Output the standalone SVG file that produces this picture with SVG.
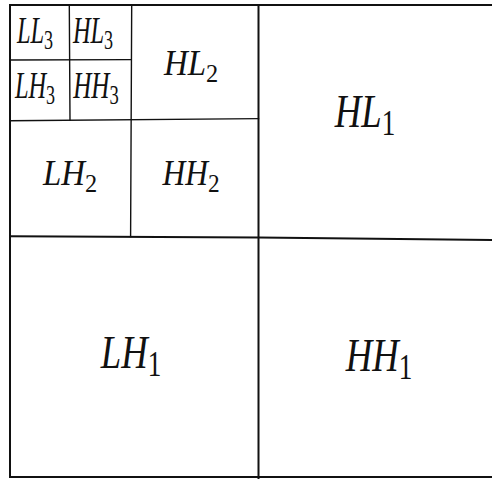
<svg xmlns="http://www.w3.org/2000/svg" width="492" height="479" viewBox="0 0 492 479">
<style>
.ln{stroke:#111;fill:none;stroke-linecap:square}
.outer{stroke-width:2}
.inner{stroke-width:1.4}
.lb{font-family:"Liberation Serif","Times New Roman",serif;font-style:italic;fill:#111;text-anchor:middle}
.l3{font-size:37px}
.l2{font-size:35px}
.l1{font-size:47px}
.sub{font-style:normal;font-size:0.74em}
</style>
<rect width="492" height="479" fill="#fff"/>
<g id="grid">
<path class="ln outer" d="M10,5 H492 M10,5 V477 M10,477 H492"/>
<path class="ln outer" d="M258.5,5 V479"/>
<path class="ln outer" d="M10,236.3 L258.5,237.6 L492,240"/>
<path class="ln inner" d="M131.7,5 L130.6,236.5"/>
<path class="ln inner" d="M10,120.8 L258.5,118.6"/>
<path class="ln inner" d="M69.3,5 L70,120"/>
<path class="ln inner" d="M10,60 L131,59.6"/>
</g>
<g id="connectors"/>
<g id="LL3"><text class="lb l3" transform="translate(35,42.7) scale(0.66,1)">LL<tspan class="sub" dy="6">3</tspan></text></g>
<g id="HL3"><text class="lb l3" transform="translate(93,42.7) scale(0.66,1)">HL<tspan class="sub" dy="6">3</tspan></text></g>
<g id="LH3"><text class="lb l3" transform="translate(35,98.3) scale(0.66,1)">LH<tspan class="sub" dy="6">3</tspan></text></g>
<g id="HH3"><text class="lb l3" transform="translate(96,98.3) scale(0.68,1)">HH<tspan class="sub" dy="6">3</tspan></text></g>
<g id="HL2"><text class="lb l2" transform="translate(191,75) scale(0.94,1)">HL<tspan class="sub" dy="7">2</tspan></text></g>
<g id="LH2"><text class="lb l2" transform="translate(70,185) scale(0.94,1)">LH<tspan class="sub" dy="7">2</tspan></text></g>
<g id="HH2"><text class="lb l2" transform="translate(191,185) scale(0.9,1)">HH<tspan class="sub" dy="7">2</tspan></text></g>
<g id="HL1"><text class="lb l1" transform="translate(365,127.3) scale(0.78,1)">HL<tspan class="sub" dy="8">1</tspan></text></g>
<g id="LH1"><text class="lb l1" transform="translate(131,368) scale(0.78,1)">LH<tspan class="sub" dy="8">1</tspan></text></g>
<g id="HH1"><text class="lb l1" transform="translate(379,370.7) scale(0.78,1)">HH<tspan class="sub" dy="8">1</tspan></text></g>
</svg>
